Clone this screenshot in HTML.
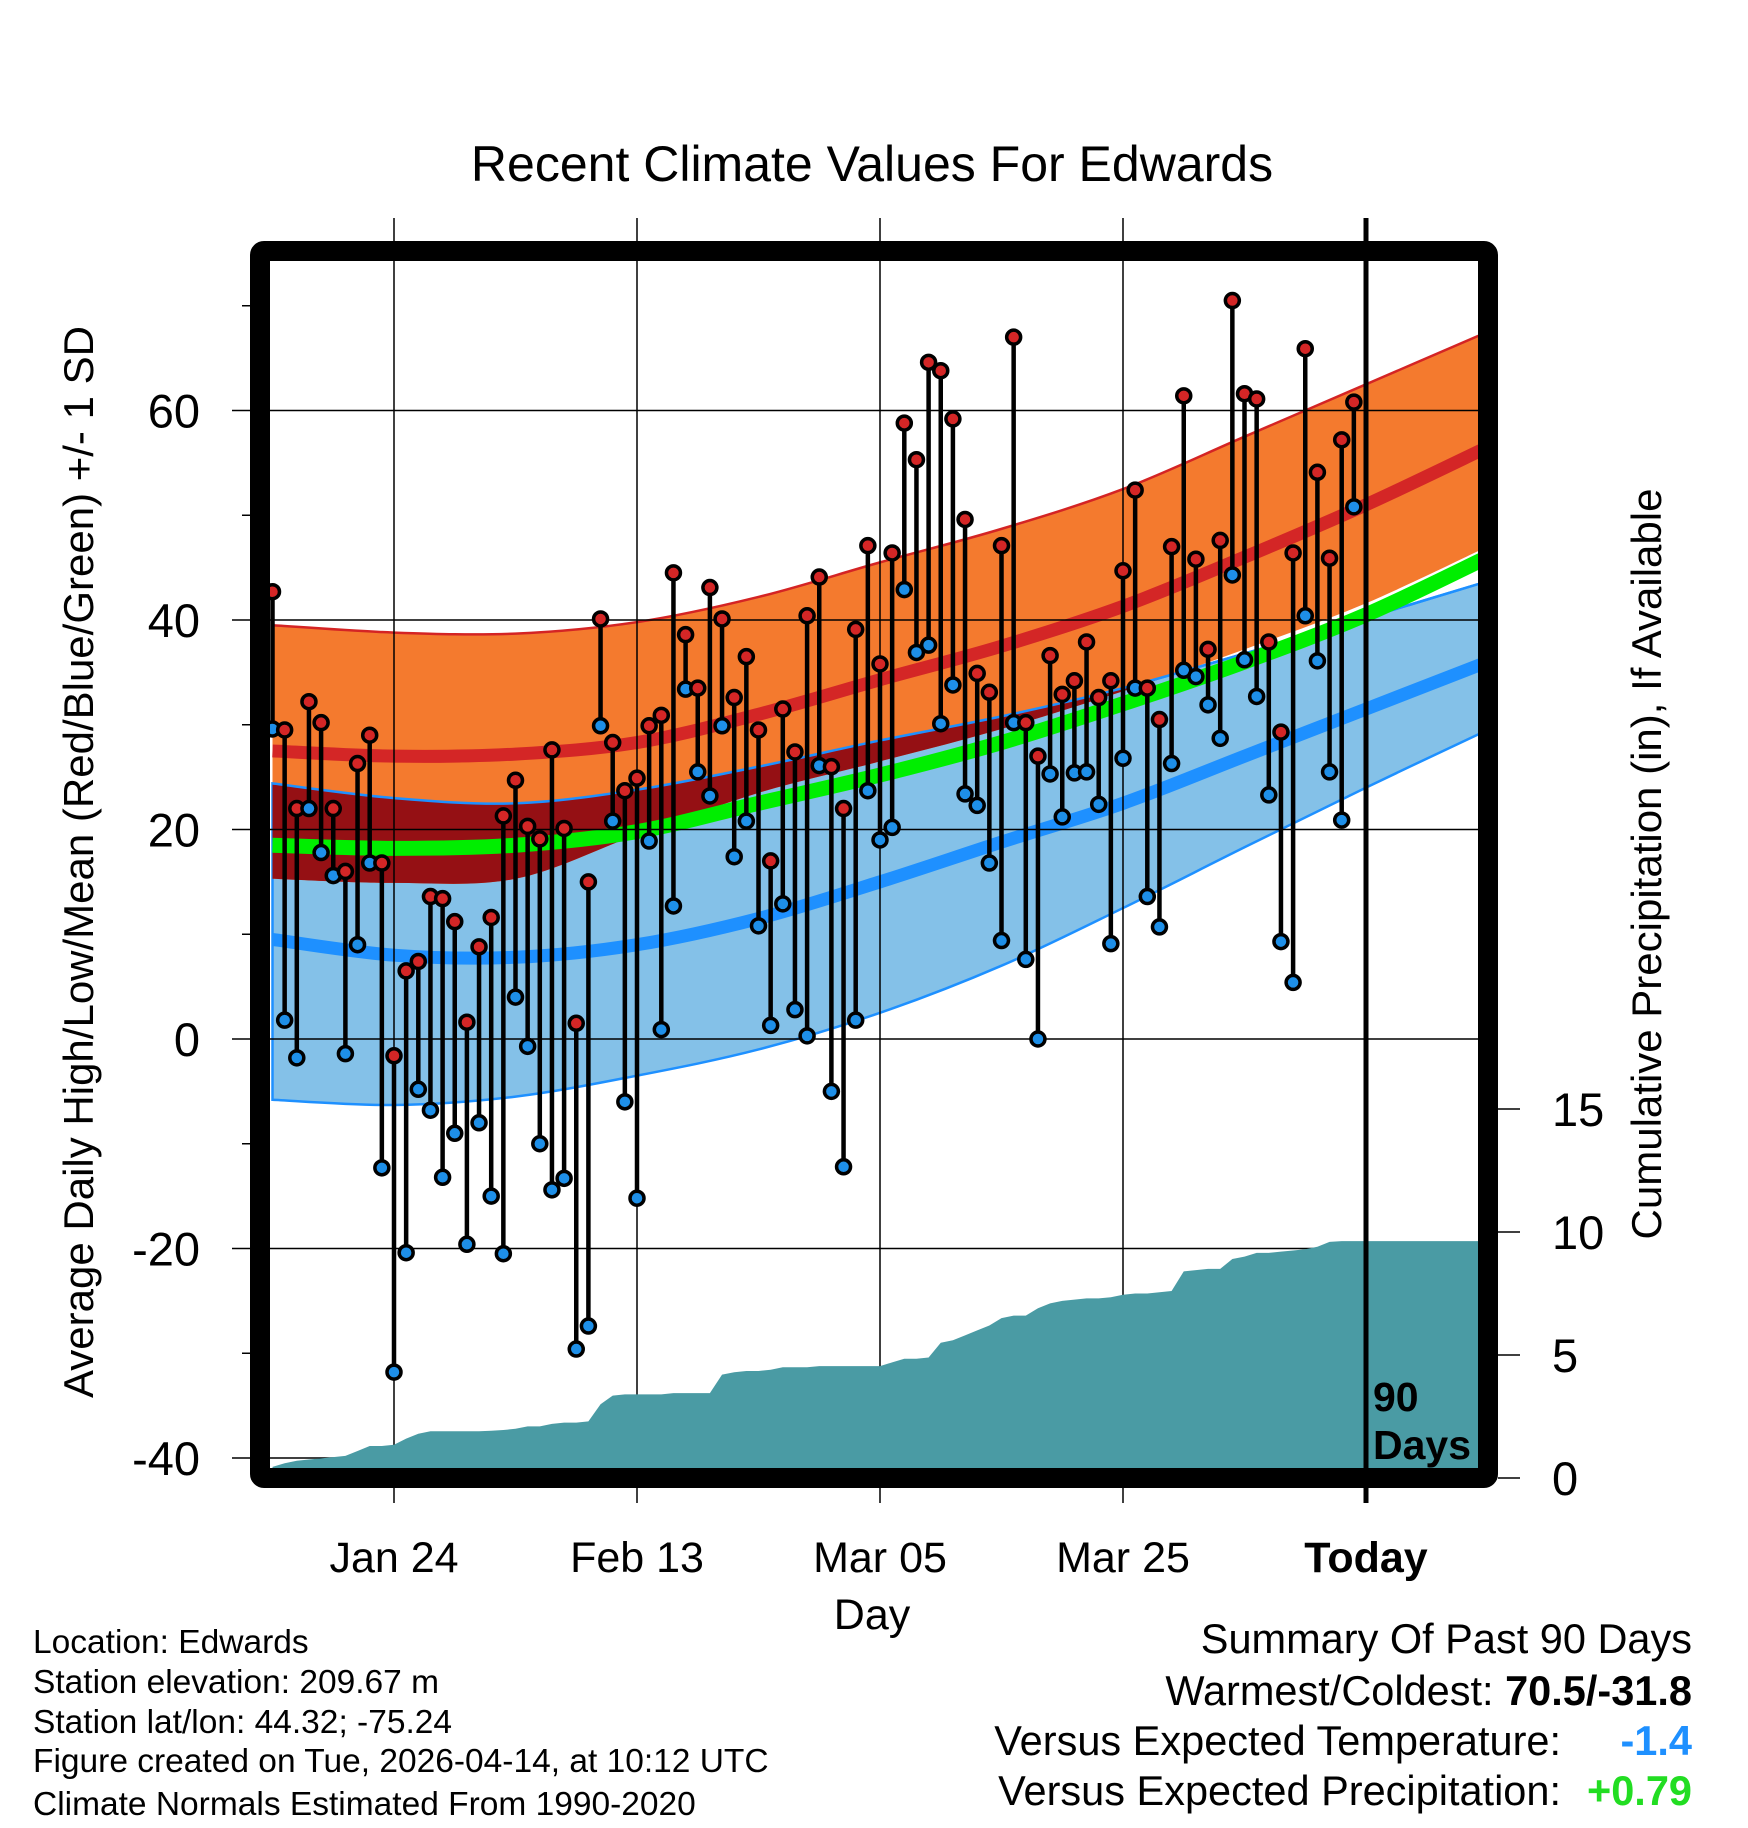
<!DOCTYPE html>
<html><head><meta charset="utf-8"><style>
html,body{margin:0;padding:0;background:#fff;}
svg{display:block;font-family:"Liberation Sans",sans-serif;}
</style></head><body>
<svg id="chart" width="1748" height="1828" viewBox="0 0 1748 1828" xmlns="http://www.w3.org/2000/svg">
<defs><clipPath id="plotclip"><rect x="270" y="261" width="1208" height="1207"/></clipPath></defs>
<g id="layer-bands" clip-path="url(#plotclip)"></g>
<g id="layer-grid"></g>
<g id="layer-marks" clip-path="url(#plotclip)"></g>
<text x="872" y="181" font-size="50" text-anchor="middle">Recent Climate Values For Edwards</text>
<text transform="translate(93,862) rotate(-90)" font-size="42" text-anchor="middle">Average Daily High/Low/Mean (Red/Blue/Green) +/- 1 SD</text>
<text transform="translate(1661,864) rotate(-90)" font-size="42" text-anchor="middle">Cumulative Precipitation (in), If Available</text>
<text x="872" y="1629" font-size="43" text-anchor="middle">Day</text>
<text x="1373" y="1411" font-size="41" font-weight="bold">90</text>
<text x="1373" y="1459" font-size="41" font-weight="bold">Days</text>
<g font-size="33.5">
<text x="33" y="1653">Location: Edwards</text>
<text x="33" y="1693">Station elevation: 209.67 m</text>
<text x="33" y="1733">Station lat/lon: 44.32; -75.24</text>
<text x="33" y="1772">Figure created on Tue, 2026-04-14, at 10:12 UTC</text>
<text x="33" y="1815">Climate Normals Estimated From 1990-2020</text>
</g>
<g font-size="41.5">
<text x="1692" y="1653" text-anchor="end">Summary Of Past 90 Days</text>
<text x="1692" y="1705" text-anchor="end">Warmest/Coldest: <tspan font-weight="bold">70.5/-31.8</tspan></text>
<text x="1561" y="1755" text-anchor="end">Versus Expected Temperature:</text>
<text x="1692" y="1755" text-anchor="end" fill="#1e90ff" font-weight="bold">-1.4</text>
<text x="1561" y="1805" text-anchor="end">Versus Expected Precipitation:</text>
<text x="1692" y="1805" text-anchor="end" fill="#22dd22" font-weight="bold">+0.79</text>
</g>
<g id="layer-top"></g>
</svg>
<script>
const highs=[42.7,29.5,22,32.2,30.2,22,16,26.3,29,16.8,-1.6,6.5,7.4,13.6,13.4,11.2,1.6,8.8,11.6,21.3,24.7,20.3,19.1,27.6,20.1,1.5,15,40.1,28.3,23.7,24.9,29.9,30.9,44.5,38.6,33.5,43.1,40.1,32.6,36.5,29.5,17,31.5,27.4,40.4,44.1,26,22,39.1,47.1,35.8,46.4,58.8,55.3,64.6,63.8,59.2,49.6,34.9,33.1,47.1,67,30.2,27,36.6,32.9,34.2,37.9,32.6,34.2,44.7,52.4,33.5,30.5,47,61.4,45.8,37.2,47.6,70.5,61.6,61.1,37.9,29.3,46.4,65.9,54.1,45.9,57.2,60.8];
const lows=[29.6,1.8,-1.8,22,17.8,15.6,-1.4,9,16.8,-12.3,-31.8,-20.4,-4.8,-6.8,-13.2,-9,-19.6,-8,-15,-20.5,4,-0.7,-10,-14.4,-13.3,-29.6,-27.4,29.9,20.8,-6,-15.2,18.9,0.9,12.7,33.4,25.5,23.2,29.9,17.4,20.8,10.8,1.3,12.9,2.8,0.3,26.1,-5,-12.2,1.8,23.7,19,20.2,42.9,36.9,37.6,30.1,33.8,23.4,22.3,16.8,9.4,30.2,7.6,0,25.3,21.2,25.4,25.5,22.4,9.1,26.8,33.5,13.6,10.7,26.3,35.2,34.6,31.9,28.7,44.3,36.2,32.7,23.3,9.3,5.4,40.4,36.1,25.5,20.9,50.8];
const precip=[0.45,0.6,0.7,0.75,0.8,0.85,0.9,1.1,1.3,1.3,1.35,1.6,1.8,1.9,1.9,1.9,1.9,1.9,1.92,1.95,2.0,2.1,2.1,2.2,2.25,2.25,2.3,3.0,3.35,3.4,3.4,3.4,3.4,3.45,3.45,3.45,3.45,4.2,4.3,4.35,4.35,4.4,4.5,4.5,4.5,4.55,4.55,4.55,4.55,4.55,4.55,4.7,4.85,4.85,4.9,5.5,5.6,5.8,6.0,6.2,6.5,6.6,6.6,6.9,7.1,7.2,7.25,7.3,7.3,7.35,7.45,7.5,7.5,7.55,7.6,8.4,8.45,8.5,8.5,8.9,9.0,9.15,9.15,9.2,9.25,9.3,9.4,9.6,9.63,9.63];
const normDays=[0,10,20,30,40,50,60,70,80,90,100];
const hiUpper=[39.5,38.8,38.7,39.8,42.2,45.5,48.7,52.5,57.5,62.5,67.5];
const hiMean=[27.5,27.0,27.2,28.3,31.0,34.3,37.5,41.3,46,51,56.5];
const hiLower=[15.3,14.9,15.3,19.5,23.5,26.5,29.6,33.2,37.2,41.6,47];
const avgMean=[18.5,18.2,18.5,19.8,22.5,25.2,28.3,32,36,40.5,46];
const loUpper=[24.4,23,22.5,23.8,26,28.5,30.8,33.5,36.8,40.2,43.7];
const loMean=[9.5,8.0,7.8,9.0,11.5,15,18.8,22.5,27,31.5,36];
const loLower=[-5.8,-6.3,-5.5,-3.5,-1.0,2.5,7,12.5,18.3,24,29.5];
const yTicks=[-40,-20,0,20,40,60];
const y2Ticks=[0,5,10,15];
const xTickLabels=["Jan 24","Feb 13","Mar 05","Mar 25","Today"];
const xTickDays=[10,30,50,70,90];

const NS="http://www.w3.org/2000/svg";
const X=d=>1366-(90-d)*12.15;
const Y=v=>1039-v*10.475;
const Y2=p=>1478-p*24.6;
function mk(tag,attrs,parent){const e=document.createElementNS(NS,tag);for(const k in attrs)e.setAttribute(k,attrs[k]);parent.appendChild(e);return e;}
function pts(vals){return normDays.map((d,i)=>[X(d),Y(vals[i])]);}
function smooth(p,move){let s=(move?"M":"L")+p[0][0]+","+p[0][1];
 for(let i=0;i<p.length-1;i++){const p0=p[Math.max(0,i-1)],p1=p[i],p2=p[i+1],p3=p[Math.min(p.length-1,i+2)];
  s+=" C"+(p1[0]+(p2[0]-p0[0])/6)+","+(p1[1]+(p2[1]-p0[1])/6)+" "+(p2[0]-(p3[0]-p1[0])/6)+","+(p2[1]-(p3[1]-p1[1])/6)+" "+p2[0]+","+p2[1];}
 return s;}
function band(up,lo){return smooth(pts(up),true)+" "+smooth(pts(lo).reverse(),false)+" Z";}
const bandsLayer=document.getElementById('layer-bands');
const gridLayer=document.getElementById('layer-grid');
const marksLayer=document.getElementById('layer-marks');
const topLayer=document.getElementById('layer-top');
yTicks.forEach(v=>{const l=mk('line',{x1:232,x2:1478,y1:Y(v),y2:Y(v),stroke:'#000','stroke-width':1.5},gridLayer);


const t=mk('text',{x:200,y:Y(v)+17,'font-size':47,'text-anchor':'end'},gridLayer);t.textContent=v;

});
[-30,-10,10,30,50,70].forEach(v=>{const l=mk('line',{x1:242,x2:250,y1:Y(v),y2:Y(v),stroke:'#000','stroke-width':1.5},gridLayer);

});
y2Ticks.forEach(p=>{const l=mk('line',{x1:1498,x2:1520,y1:Y2(p),y2:Y2(p),stroke:'#000','stroke-width':1.5},gridLayer);


const t=mk('text',{x:1552,y:Y2(p)+17,'font-size':47},gridLayer);t.textContent=p;

});
xTickDays.forEach((d,i)=>{const l=mk('line',{x1:X(d),x2:X(d),y1:218,y2:1503,stroke:'#000','stroke-width':1.5},gridLayer);


const t=mk('text',{x:X(d),y:1572,'font-size':43,'text-anchor':'middle','font-weight':i==4?'bold':'normal'},gridLayer);t.textContent=xTickLabels[i];

});
let e=mk('path',{d:band(loUpper,loLower),fill:'#84c1e8',stroke:'#1e90ff','stroke-width':2.5},bandsLayer);


const cp=mk('clipPath',{id:'loclip'},bandsLayer);mk('path',{d:band(loUpper,loLower)},cp);
e=mk('path',{d:band(hiUpper,hiLower),fill:'#f47a2e'},bandsLayer);


e=mk('path',{d:band(hiUpper,hiLower),fill:'#951014','clip-path':'url(#loclip)'},bandsLayer);


e=mk('path',{d:smooth(pts(hiUpper),true),fill:'none',stroke:'#d42424','stroke-width':2.5},bandsLayer);


e=mk('path',{d:smooth(pts(loUpper),true),fill:'none',stroke:'#1e90ff','stroke-width':2.5},bandsLayer);


e=mk('path',{d:smooth(pts(hiMean),true),fill:'none',stroke:'#d42626','stroke-width':13},bandsLayer);


e=mk('path',{d:smooth(pts(loMean),true),fill:'none',stroke:'#1e90ff','stroke-width':13},bandsLayer);


e=mk('path',{d:smooth(pts(avgMean),true),fill:'none',stroke:'#00ee00','stroke-width':15},bandsLayer);


let pd="M"+X(0)+","+Y2(0);
precip.forEach((p,i)=>{pd+=" L"+X(i)+","+Y2(p);});
pd+=" L1478,"+Y2(precip[precip.length-1])+" L1478,"+Y2(0)+" Z";
e=mk('path',{d:pd,fill:'#4a9ba4'},marksLayer);


highs.forEach((h,i)=>{const l=mk('line',{x1:X(i),x2:X(i),y1:Y(h),y2:Y(lows[i]),stroke:'#000','stroke-width':4.5},marksLayer);

});
highs.forEach((h,i)=>{
const c1=mk('circle',{cx:X(i),cy:Y(lows[i]),r:7,fill:'#1e8fe8',stroke:'#000','stroke-width':3.5},marksLayer);


const c2=mk('circle',{cx:X(i),cy:Y(h),r:7,fill:'#d42626',stroke:'#000','stroke-width':3.5},marksLayer);

});
e=mk('line',{x1:X(90),x2:X(90),y1:218,y2:1503,stroke:'#000','stroke-width':5},topLayer);


e=mk('rect',{x:260,y:251,width:1228,height:1227,rx:4,fill:'none',stroke:'#000','stroke-width':20},topLayer);


</script>
</body></html>
